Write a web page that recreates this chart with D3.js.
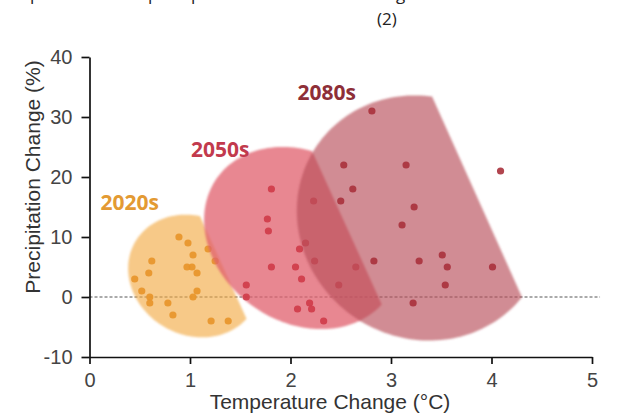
<!DOCTYPE html>
<html><head><meta charset="utf-8">
<script src="https://cdn.jsdelivr.net/npm/d3@7"></script>
<style>body{margin:0;background:#fff}svg{display:block}</style>
</head><body>
<script>
// ---- data ----
const periods = ["2020s", "2050s", "2080s"];
const temp2020 = [0.89,0.98,0.62,1.03,0.97,1.02,0.59,1.07,0.45,0.52,1.07,0.60,1.03,0.60,0.78,0.83,1.21,1.38,1.18,1.25];
const prec2020 = [10,9,6,7,5,5,4,4,3,1,1,0,0,-1,-1,-3,-4,-4,8,6];
const temp2050 = [1.81,1.77,1.78,2.15,2.09,2.24,1.81,2.05,2.11,1.56,1.56,2.19,2.07,2.21,2.33,2.23,2.65,2.48];
const prec2050 = [18,13,11,9,8,6,5,5,3,2,0,-1,-2,-2,-4,16,5,2];
const temp2080 = [2.53,2.62,2.50,2.81,3.15,3.23,3.11,4.09,2.83,3.28,3.51,3.56,4.01,3.54,3.22];
const prec2080 = [22,18,16,31,22,15,12,21,6,6,7,5,5,2,-1];
const xTicks = [0,1,2,3,4,5];
const yTicks = [-10,0,10,20,30,40];
// envelope shapes (data units): centre, radii, tilt, chord cut
const envCenterT = [1.04, 2.114, 3.308];
const envCenterP = [3.5, 9.83, 13.17];
const envRadT = [0.677, 1.035, 1.27];
const envRadP = [9.83, 14.0, 20.0];
const envTilt = [30, 35, 35];
const cutTopT = [1.08, 2.224, 3.388], cutTopP = [14.2, 24.0, 34.17];
const cutBotT = [1.567, 2.92, 4.303], cutBotP = [-3.8, -1.67, 0];

// ---- layout / style ----
const W = 632, H = 415;
const fills = ["#f2a840", "#e0606c", "#b8505a"];
const fillOp = [0.62, 0.75, 0.65];
const dotCols = ["#e8932a", "#cf3a48", "#a8303c"];
const labCols = ["#e39a33", "#c23a4d", "#8e2f38"];
const labPosT = [0.11, 1.01, 2.07], labPosP = [14.5, 23.4, 32.8];

const svg = d3.select("body").append("svg").attr("width", W).attr("height", H);
const x = d3.scaleLinear().domain([0, 5]).range([89.5, 592]);
const y = d3.scaleLinear().domain([-10, 40]).range([357, 57]);

const defs = svg.append("defs");
defs.append("filter").attr("id","soft").attr("x","-10%").attr("y","-10%").attr("width","120%").attr("height","120%")
  .append("feGaussianBlur").attr("stdDeviation", 1.1);
defs.append("filter").attr("id","softdot").attr("x","-50%").attr("y","-50%").attr("width","200%").attr("height","200%")
  .append("feGaussianBlur").attr("stdDeviation", 0.5);

// clipped title line above (only descenders visible)
const topFont = "'Open Sans', sans-serif";
[["p",30],["p",148],["p",191],["g",396]].forEach(([t,px]) => {
  svg.append("text").attr("x", px).attr("y", 0).attr("font-family", topFont).attr("font-size", 17).attr("fill", "#222").text(t);
});
svg.append("text").attr("x", 377).attr("y", 25).attr("font-family", topFont).attr("font-size", 17).attr("fill", "#222").text("(2)");

function envelope(i) {
  const cx = x(envCenterT[i]), cy = y(envCenterP[i]);
  const a = x(envCenterT[i] + envRadT[i]) - cx;
  const b = y(envCenterP[i] - envRadP[i]) - cy;
  const th = envTilt[i] * Math.PI / 180;
  const pts = d3.range(0, 360, 2).map(d => {
    const t = d * Math.PI / 180, u = a * Math.cos(t), v = b * Math.sin(t);
    return [cx + u * Math.cos(th) - v * Math.sin(th), cy + u * Math.sin(th) + v * Math.cos(th)];
  });
  const p1 = [x(cutTopT[i]), y(cutTopP[i])], p2 = [x(cutBotT[i]), y(cutBotP[i])];
  const side = p => (p2[0]-p1[0])*(p[1]-p1[1]) - (p2[1]-p1[1])*(p[0]-p1[0]);
  const out = [];
  for (let k = 0; k < pts.length; k++) {
    const A = pts[k], B = pts[(k+1) % pts.length];
    const sa = side(A), sb = side(B);
    if (sa >= 0) out.push(A);
    if ((sa >= 0) !== (sb >= 0)) {
      const t = sa / (sa - sb);
      out.push([A[0] + t*(B[0]-A[0]), A[1] + t*(B[1]-A[1])]);
    }
  }
  return d3.line()(out) + "Z";
}

const temps = [temp2020, temp2050, temp2080];
const precs = [prec2020, prec2050, prec2080];

// zero line
svg.append("line").attr("x1", x(0)).attr("x2", x(5.08)).attr("y1", y(0)).attr("y2", y(0))
  .attr("stroke", "#555").attr("stroke-width", 1).attr("stroke-dasharray", "3,2");

periods.forEach((p, i) => {
  const g = svg.append("g");
  g.append("path").attr("d", envelope(i)).attr("fill", fills[i]).attr("fill-opacity", fillOp[i]).attr("filter", "url(#soft)");
  g.selectAll("circle").data(temps[i].map((t, k) => [t, precs[i][k]])).join("circle")
    .attr("cx", d => x(d[0])).attr("cy", d => y(d[1])).attr("r", 3.6)
    .attr("fill", dotCols[i]).attr("fill-opacity", 0.9).attr("filter", "url(#softdot)");
});

periods.forEach((p, i) => {
  svg.append("text").attr("x", x(labPosT[i])).attr("y", y(labPosP[i]))
    .attr("font-family", "'Open Sans', sans-serif").attr("font-weight", 700).attr("font-size", 21)
    .attr("fill", labCols[i]).text(p);
});

// axes
const axFont = "'Liberation Sans', Arial, sans-serif";
const gx = svg.append("g").attr("transform", `translate(0,${y(-10)})`)
  .call(d3.axisBottom(x).tickValues(xTicks).tickSize(7).tickSizeOuter(0).tickPadding(9).tickFormat(d => String(d)));
const gy = svg.append("g").attr("transform", `translate(${x(0)},0)`)
  .call(d3.axisLeft(y).tickValues(yTicks).tickSize(8).tickSizeOuter(0).tickPadding(9).tickFormat(d => String(d)));
[gx, gy].forEach(g => {
  g.selectAll("path.domain").attr("stroke", "#111").attr("stroke-width", 1.7);
  g.selectAll(".tick line").attr("stroke", "#111").attr("stroke-width", 1.7);
  g.selectAll(".tick text").attr("font-family", axFont).attr("font-size", 20).attr("fill", "#444");
});

svg.append("text").attr("x", 330).attr("y", 409).attr("text-anchor", "middle")
  .attr("font-family", axFont).attr("font-size", 21).attr("fill", "#333").text("Temperature Change (°C)");
svg.append("text").attr("transform", "translate(40,177) rotate(-90)").attr("text-anchor", "middle")
  .attr("font-family", axFont).attr("font-size", 21).attr("fill", "#333").text("Precipitation Change (%)");
</script>
</body></html>
